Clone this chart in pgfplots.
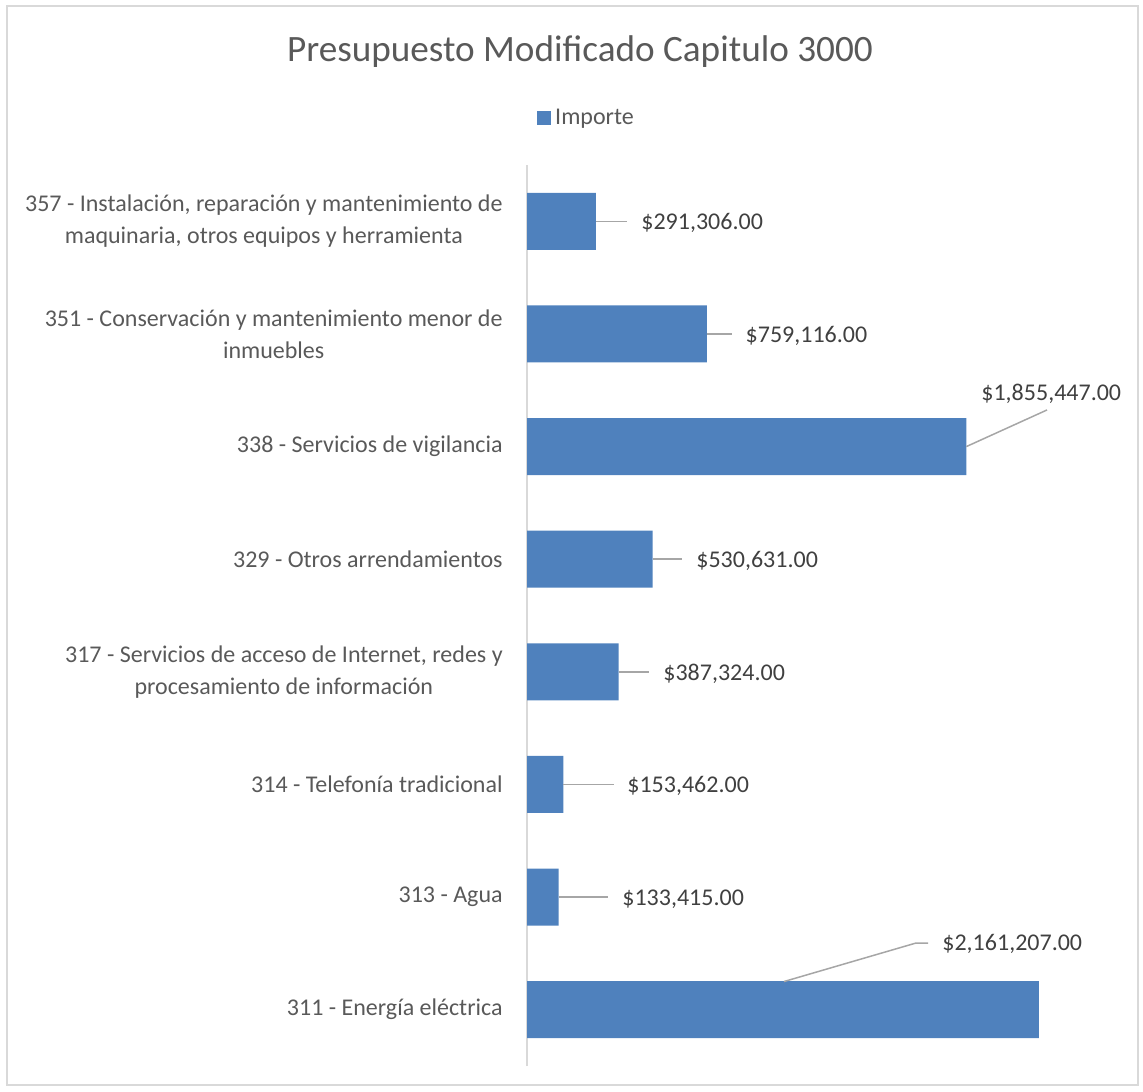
\documentclass[border=0pt]{standalone}
\usepackage{pgfplots}
\pgfplotsset{compat=1.18}
\usepackage{fontspec}
\setmainfont{Carlito}

\definecolor{barblue}{RGB}{79,129,189}
\definecolor{txtgray}{RGB}{89,89,89}
\definecolor{lblgray}{RGB}{64,64,64}
\definecolor{linegray}{RGB}{166,166,166}
\definecolor{framegray}{RGB}{217,217,217}

\newcommand{\lblfont}{\fontsize{12}{16}\selectfont}

\begin{document}
\begin{tikzpicture}
\path (0,0) rectangle (571.5pt,545.5pt);
\draw[framegray, line width=0.75pt] (3.5pt,3pt) rectangle (569pt,542.5pt);
\begin{axis}[
  at={(263.5pt,12.5pt)}, anchor=south west,
  scale only axis, width=296pt, height=450.5pt,
  xmin=0, xmax=2500000, ymin=-0.5, ymax=7.5,
  hide x axis,
  axis y line*=left,
  y axis line style={framegray, line width=0.75pt, -},
  ytick={0,...,7},
  yticklabels={
    {311 - Energía eléctrica},
    {313 - Agua},
    {314 - Telefonía tradicional},
    {317 - Servicios de acceso de Internet, redes y\\procesamiento de información},
    {329 - Otros arrendamientos},
    {338 - Servicios de vigilancia},
    {351 - Conservación y mantenimiento menor de\\inmuebles},
    {357 - Instalación, reparación y mantenimiento de\\maquinaria, otros equipos y herramienta}},
  ytick style={draw=none},
  yticklabel style={font=\lblfont, text=txtgray, align=center, inner sep=0pt, xshift=-12pt},
  title={Presupuesto Modificado Capitulo 3000},
  title style={at={(0.0895,1.113)}, anchor=center, font=\fontsize{18.6}{22}\selectfont, text=txtgray},
  legend style={at={(0.1022,1.052)}, anchor=center, draw=none, font=\lblfont, text=txtgray,
    inner sep=0pt},
  legend image code/.code={\fill[barblue] (0pt,-3.5pt) rectangle (7pt,3.5pt);},
  clip=false,
]
% bars
\addplot[xbar, bar width=28.5pt, fill=barblue, draw=none] coordinates {
  (2161207,0) (133415,1) (153462,2) (387324,3)
  (530631,4) (1855447,5) (759116,6) (291306,7)};
\addlegendentry{Importe}

% leader lines
\addplot[linegray, line width=0.75pt, forget plot] coordinates {(291306,7) (422297,7)};
\addplot[linegray, line width=0.75pt, forget plot] coordinates {(759116,6) (865709,6)};
\addplot[linegray, line width=0.75pt, forget plot] coordinates {(1855447,5) (2195946,5.325)};
\addplot[linegray, line width=0.75pt, forget plot] coordinates {(530631,4) (654561,4)};
\addplot[linegray, line width=0.75pt, forget plot] coordinates {(387324,3) (515203,3)};
\addplot[linegray, line width=0.75pt, forget plot] coordinates {(153462,2) (367399,2)};
\addplot[linegray, line width=0.75pt, forget plot] coordinates {(133415,1) (342061,1)};
\addplot[linegray, line width=0.75pt, forget plot] coordinates {(1085304,0.25) (1642736,0.592) (1693412,0.592)};

% data labels
\addplot[only marks, mark=none, forget plot, nodes near coords, point meta=explicit symbolic,
  nodes near coords style={anchor=west, inner sep=0pt, text=lblgray, font=\lblfont}]
  coordinates {
  (481419,6.985) [\$291,306.00]
  (922000,5.985) [\$759,116.00]
  (1917230,5.47) [\$1,855,447.00]
  (713682,3.985) [\$530,631.00]
  (574324,2.985) [\$387,324.00]
  (422297,1.985) [\$153,462.00]
  (401182,0.985) [\$133,415.00]
  (1752534,0.58) [\$2,161,207.00]
  };
\end{axis}
\end{tikzpicture}
\end{document}
